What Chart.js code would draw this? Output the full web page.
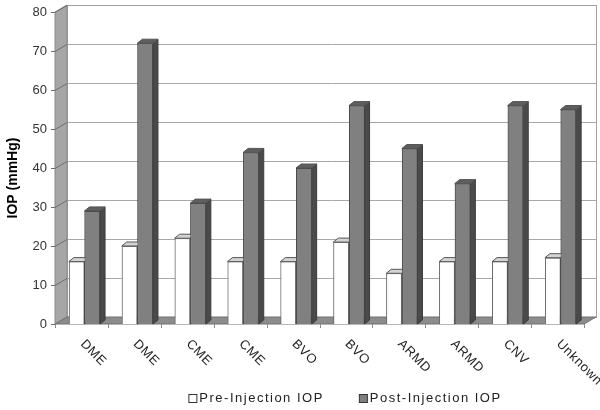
<!DOCTYPE html>
<html>
<head>
<meta charset="utf-8">
<script src="https://cdn.jsdelivr.net/npm/chart.js@4.4.1/dist/chart.umd.min.js"></script>
<style>
  html, body { margin: 0; padding: 0; background: #fff; }
  #wrap { width: 600px; height: 410px; }
</style>
</head>
<body>
<div id="wrap"><canvas id="chart" width="600" height="410"></canvas></div>
<script>
const categories = ['DME', 'DME', 'CME', 'CME', 'BVO', 'BVO', 'ARMD', 'ARMD', 'CNV', 'Unknown'];
const preIOP = [16, 20, 22, 16, 16, 21, 13, 16, 16, 17];
const postIOP = [29, 72, 31, 44, 40, 56, 45, 36, 56, 55];
const seriesNames = ['Pre-Injection IOP', 'Post-Injection IOP'];
const yTitle = 'IOP (mmHg)';

// fake 3D depth, in px
const WALL_DX = 12, WALL_DY = 7;
const BAR_DX = 5, BAR_DY = 4;
const FRAME_SHIFT = 3; // bars sit a little right of the front frame

const faceColors = [
    { top: '#d4d4d4', side: '#b0b0b0' },
    { top: '#5e5e5e', side: '#4a4a4a' },
];

function poly(ctx, pts, fill, stroke) {
    ctx.beginPath();
    ctx.moveTo(pts[0][0], pts[0][1]);
    for (let i = 1; i < pts.length; i++) ctx.lineTo(pts[i][0], pts[i][1]);
    ctx.closePath();
    if (fill) { ctx.fillStyle = fill; ctx.fill(); }
    if (stroke) { ctx.strokeStyle = stroke; ctx.lineWidth = 1; ctx.stroke(); }
}

const box3d = {
    id: 'box3d',
    beforeDatasetsDraw(chart) {
        const { ctx, chartArea: a, scales: { y } } = chart;
        const L = a.left - FRAME_SHIFT, R = a.right - FRAME_SHIFT, T = a.top, B = a.bottom;
        ctx.save();

        // back wall
        ctx.fillStyle = '#fff';
        ctx.fillRect(L + WALL_DX, T - WALL_DY, R - L, B - T);

        // gridlines on the back wall
        ctx.strokeStyle = '#a8a8a8';
        ctx.lineWidth = 1;
        y.ticks.forEach(t => {
            const py = Math.round(y.getPixelForValue(t.value) - WALL_DY) + 0.5;
            ctx.beginPath();
            ctx.moveTo(L + WALL_DX, py);
            ctx.lineTo(R + WALL_DX, py);
            ctx.stroke();
        });
        ctx.strokeStyle = '#a0a0a0';
        ctx.strokeRect(L + WALL_DX + 0.5, T - WALL_DY + 0.5, R - L, B - T);

        // left wall
        poly(ctx, [[L, T], [L + WALL_DX, T - WALL_DY], [L + WALL_DX, B - WALL_DY], [L, B]], '#a6a6a6', '#8a8a8a');

        // tick stubs on the left wall
        ctx.strokeStyle = '#6e6e6e';
        y.ticks.forEach(t => {
            const py = Math.round(y.getPixelForValue(t.value)) + 0.5;
            ctx.beginPath();
            ctx.moveTo(L - 4, py);
            ctx.lineTo(L, py);
            ctx.lineTo(L + WALL_DX, py - WALL_DY);
            ctx.stroke();
        });

        // floor
        poly(ctx, [[L, B], [R, B], [R + WALL_DX, B - WALL_DY], [L + WALL_DX, B - WALL_DY]], '#8c8c8c', '#707070');

        // category ticks under the floor
        ctx.strokeStyle = '#8a8a8a';
        const n = categories.length;
        for (let i = 0; i <= n; i++) {
            const px = Math.round(L + i * (R - L) / n) + 0.5;
            ctx.beginPath();
            ctx.moveTo(px, B);
            ctx.lineTo(px, B + 4);
            ctx.stroke();
        }
        ctx.restore();
    },
    afterDatasetsDraw(chart) {
        const { ctx } = chart;
        ctx.save();
        for (let i = 0; i < categories.length; i++) {
            chart.data.datasets.forEach((ds, d) => {
                const el = chart.getDatasetMeta(d).data[i];
                const x0 = el.x - el.width / 2, x1 = el.x + el.width / 2;
                const top = el.y, base = el.base;
                poly(ctx, [[x1, top], [x1 + BAR_DX, top - BAR_DY], [x1 + BAR_DX, base - BAR_DY], [x1, base]], faceColors[d].side, '#3c3c3c');
                poly(ctx, [[x0, top], [x1, top], [x1 + BAR_DX, top - BAR_DY], [x0 + BAR_DX, top - BAR_DY]], faceColors[d].top, '#555');
                el.draw(ctx);
            });
        }
        ctx.restore();
    },
    afterDraw(chart) {
        const { ctx, chartArea: a, scales: { x } } = chart;
        ctx.save();

        // y axis title
        ctx.fillStyle = '#000';
        ctx.font = 'bold 14px "Liberation Sans", Arial, sans-serif';
        ctx.textAlign = 'center';
        ctx.textBaseline = 'middle';
        ctx.translate(13, 178);
        ctx.rotate(-Math.PI / 2);
        ctx.fillText(yTitle, 0, 0);
        ctx.setTransform(1, 0, 0, 1, 0, 0);

        // slanted category labels
        ctx.font = '13px "Liberation Sans", Arial, sans-serif';
        ctx.fillStyle = '#222';
        ctx.letterSpacing = '0.6px';
        ctx.textAlign = 'left';
        ctx.textBaseline = 'middle';
        categories.forEach((c, i) => {
            ctx.save();
            ctx.translate(x.getPixelForTick(i) - 2, a.bottom + 18);
            ctx.rotate(Math.PI / 4);
            ctx.fillText(c, 0, 0);
            ctx.restore();
        });

        // legend
        ctx.font = '13px "Liberation Sans", Arial, sans-serif';
        ctx.letterSpacing = '1.5px';
        ctx.fillStyle = '#222';
        const box = 8, gapIn = 3, gapOut = 35;
        const widths = chart.data.datasets.map(ds => ctx.measureText(ds.label).width);
        const total = widths.reduce((s, w) => s + box + gapIn + w, 0) + gapOut * (widths.length - 1);
        let lx = 345 - total / 2;
        const ly = 398;
        chart.data.datasets.forEach((ds, d) => {
            ctx.fillStyle = ds.backgroundColor;
            ctx.fillRect(lx + 0.5, ly - box / 2 + 0.5, box, box);
            ctx.strokeStyle = '#333';
            ctx.lineWidth = 1;
            ctx.strokeRect(lx + 0.5, ly - box / 2 + 0.5, box, box);
            ctx.fillStyle = '#222';
            ctx.fillText(ds.label, lx + box + gapIn, ly);
            lx += box + gapIn + widths[d] + gapOut;
        });
        ctx.restore();
    },
};

new Chart(document.getElementById('chart'), {
    type: 'bar',
    data: {
        labels: categories,
        datasets: [
            {
                label: seriesNames[0],
                data: preIOP,
                backgroundColor: '#ffffff',
                borderColor: '#6a6a6a',
                borderWidth: 1,
            },
            {
                label: seriesNames[1],
                data: postIOP,
                backgroundColor: '#808080',
                borderColor: '#4a4a4a',
                borderWidth: 1,
            },
        ],
    },
    options: {
        responsive: false,
        animation: false,
        events: [],
        layout: { padding: { top: 12, right: 13, left: 0, bottom: 0 } },
        datasets: {
            bar: { categoryPercentage: 0.59, barPercentage: 1.0 },
        },
        scales: {
            x: {
                grid: { display: false },
                border: { display: false },
                ticks: { display: false },
                afterFit: (scale) => { scale.height = 86; },
            },
            y: {
                min: 0,
                max: 80,
                grid: { display: false, drawTicks: false },
                border: { display: false },
                ticks: {
                    stepSize: 10,
                    padding: 11,
                    color: '#333',
                    font: { family: '"Liberation Sans", Arial, sans-serif', size: 13 },
                },
                afterFit: (scale) => {
                    scale.width = 58;
                    // tick padding would otherwise push the plot down
                    scale.paddingTop = 0;
                    scale.paddingBottom = 0;
                },
            },
        },
        plugins: {
            legend: { display: false },
            tooltip: { enabled: false },
        },
    },
    plugins: [box3d],
});
</script>
</body>
</html>
